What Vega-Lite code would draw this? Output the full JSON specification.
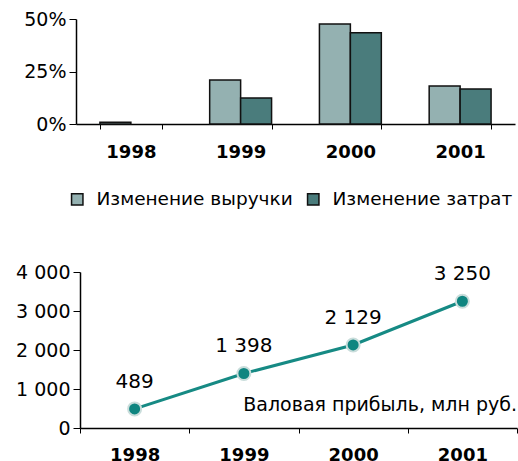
{
  "$schema": "https://vega.github.io/schema/vega-lite/v6.json",
  "padding": {"left": 0, "top": 10, "right": 0, "bottom": 0},
  "spacing": 54,
  "resolve": {"scale": {"color": "independent"}, "legend": {"color": "independent"}},
  "config": {
    "font": "DejaVu Sans",
    "view": {"stroke": null},
    "axis": {
      "domainColor": "#000000",
      "tickColor": "#000000",
      "labelColor": "#000000",
      "grid": false,
      "title": null,
      "labelFontSize": 19
    }
  },
  "vconcat": [
    {
      "width": 434,
      "height": 105,
      "data": {
        "values": [
          {"year": "1998", "series": "Изменение выручки", "value": 0.008},
          {"year": "1999", "series": "Изменение выручки", "value": 0.21},
          {"year": "1999", "series": "Изменение затрат", "value": 0.124},
          {"year": "2000", "series": "Изменение выручки", "value": 0.476},
          {"year": "2000", "series": "Изменение затрат", "value": 0.435},
          {"year": "2001", "series": "Изменение выручки", "value": 0.181},
          {"year": "2001", "series": "Изменение затрат", "value": 0.167}
        ]
      },
      "mark": {"type": "bar", "stroke": "#111111", "strokeWidth": 1.5},
      "encoding": {
        "x": {
          "field": "year", "type": "nominal",
          "scale": {"range": [-4, 435], "paddingInner": 0.436, "paddingOuter": 0.218},
          "axis": {"labelAngle": 0, "labelFontWeight": "bold", "labelFontSize": 18, "labelPadding": 14, "tickBand": "extent", "tickSize": 5, "domainWidth": 1.5}
        },
        "xOffset": {"field": "series", "type": "nominal", "scale": {"domain": ["Изменение выручки", "Изменение затрат"], "paddingInner": 0, "paddingOuter": 0}},
        "y": {
          "field": "value", "type": "quantitative",
          "scale": {"domain": [0, 0.5]},
          "axis": {"values": [0, 0.25, 0.5], "format": ".0%", "offset": 4, "tickSize": 7, "labelPadding": 3, "minExtent": 72, "maxExtent": 72, "domainWidth": 1.5}
        },
        "color": {
          "field": "series", "type": "nominal",
          "scale": {"domain": ["Изменение выручки", "Изменение затрат"], "range": ["#94B1B1", "#4A7C7C"]},
          "legend": {
            "title": null, "orient": "none", "legendX": -12, "legendY": 171, "direction": "horizontal",
            "symbolType": "square", "symbolSize": 130, "symbolStrokeColor": "#111111", "symbolStrokeWidth": 1.5,
            "labelFontSize": 18.5, "labelColor": "#000000", "labelLimit": 400, "labelOffset": 10, "columnPadding": 11
          }
        }
      }
    },
    {
      "width": 437,
      "height": 156,
      "data": {
        "values": [
          {"year": "1998", "value": 489, "label": "489"},
          {"year": "1999", "value": 1398, "label": "1 398"},
          {"year": "2000", "value": 2129, "label": "2 129"},
          {"year": "2001", "value": 3250, "label": "3 250"}
        ]
      },
      "encoding": {
        "x": {
          "field": "year", "type": "nominal",
          "scale": {"type": "band", "paddingInner": 0, "paddingOuter": 0},
          "axis": {"labelAngle": 0, "labelFontWeight": "bold", "labelFontSize": 18, "labelPadding": 13, "tickBand": "extent", "tickSize": 5, "domainWidth": 1.5}
        },
        "y": {
          "field": "value", "type": "quantitative",
          "scale": {"domain": [0, 4000]},
          "axis": {"values": [0, 1000, 2000, 3000, 4000], "format": ",d", "labelExpr": "replace(datum.label, ',', ' ')", "tickSize": 7, "labelPadding": 3, "minExtent": 80, "maxExtent": 80, "domainWidth": 1.5}
        }
      },
      "layer": [
        {"mark": {"type": "line", "color": "#168A84", "strokeWidth": 3}},
        {"mark": {"type": "point", "filled": true, "fill": "#0F8580", "stroke": "#C9DDDB", "strokeWidth": 2, "opacity": 1, "size": 170}},
        {"mark": {"type": "text", "fontSize": 20, "dy": -27, "color": "#000000"}, "encoding": {"text": {"field": "label"}}},
        {
          "data": {"values": [{"name": "Валовая прибыль, млн руб.", "year": "2001", "value": 590}]},
          "mark": {"type": "text", "fontSize": 19, "align": "right", "color": "#000000"},
          "encoding": {
            "x": {"field": "year", "type": "nominal", "bandPosition": 1},
            "y": {"field": "value", "type": "quantitative"},
            "text": {"field": "name"}
          }
        }
      ]
    }
  ]
}
